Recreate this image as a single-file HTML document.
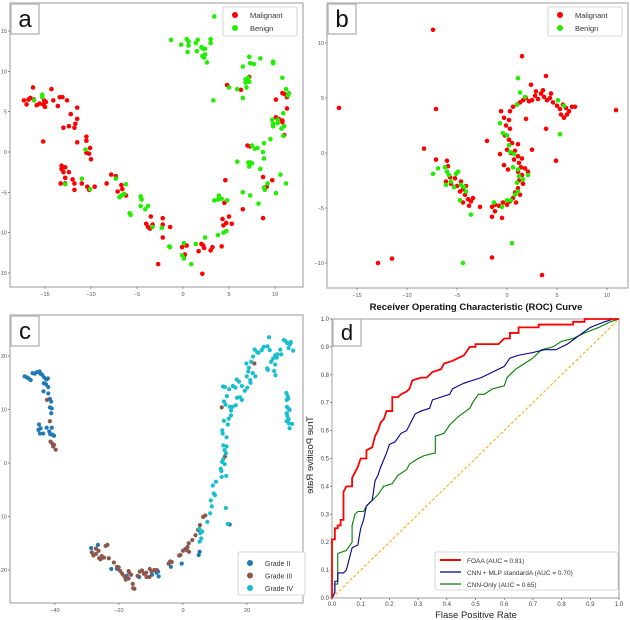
<!DOCTYPE html>
<html><head><meta charset="utf-8"><style>
html,body{margin:0;padding:0;background:#fff;}
svg{display:block;font-family:"Liberation Sans",sans-serif;}
</style></head><body>
<svg id="fig" width="630" height="620" viewBox="0 0 630 620"></svg>
<script>
const aMal=[[-17.3,6.4],[-17,5.9],[-16.8,6.5],[-16.6,6.7],[-16.3,8],[-16.2,6.5],[-15.9,5.8],[-15.6,6],[-15.2,5.9],[-15.1,6.4],[-15,5.6],[-14.9,6.2],[-14.3,7.8],[-14.1,6.4],[-13.6,5.7],[-13.4,6.8],[-13.1,6.8],[-12.6,6.4],[-13,3],[-12.4,3.2],[-12.2,4.7],[-11.8,3],[-11.7,3.5],[-11.5,4.1],[-11.5,5.5],[-11.5,1.2],[-15.2,1.3],[-10.5,1.9],[-10.5,1.4],[-10.5,-0.1],[-10.2,-0.2],[-10.1,0.5],[-10,-0.9],[-13.2,-1.7],[-13.2,-2.1],[-13,-2.5],[-12.8,-1.9],[-12.8,-3.2],[-12.4,-2.5],[-13.3,-3.9],[-12.8,-3.9],[-12,-3.4],[-11.8,-3.9],[-11.8,-4.7],[-11,-3.9],[-10.4,-4.3],[-10.2,-4.7],[-9.6,-4.3],[-8.3,-3.9],[-7.8,-2.8],[-7.3,-3],[-7.1,-4.9],[-6.7,-4.1],[-6.6,-4.6],[-6.2,-5.4],[-3.5,-8],[-4,-8.9],[-3.8,-9.3],[-3.6,-9.5],[-3.3,-9],[-2.2,-8.2],[-2.2,-9],[-1.4,-9.3],[-2.2,-10.6],[-0.1,-11.8],[0.4,-11.6],[0.2,-12.7],[0.1,-12.9],[-2.7,-13.9],[2,-11.4],[2.2,-11.6],[2.3,-11.9],[1.7,-12.3],[3,-12.2],[3.2,-11.8],[4.2,-11.7],[2.1,-15.1],[4.3,-8.3],[4.4,-9.1],[4.7,-8.8],[5,-8],[5.3,-8.9],[4.5,-6.3],[4.6,-3.5],[6.5,-7.1],[8.7,-8.2],[8.7,-3.1],[9.1,-4.3],[9.7,-3.5],[7,0.8],[7.3,0.7],[4.8,8.3],[6.3,7.7],[7.2,9.3],[10.1,6.5],[10.1,4.3],[10.8,3.9],[10.8,7.3],[11,7.2],[11,2.1],[11.3,6.8],[11.3,5.4],[10.8,3.7],[10.4,4.1]];
const aBen=[[3.4,16.8],[-1.3,13.9],[-0.2,13.3],[0.4,14],[0.6,13.7],[0.6,13.2],[0.5,12.4],[1.4,13.5],[1.6,13.9],[1.5,12.5],[2,13],[2.2,12.8],[2.4,12.8],[2.1,11.9],[2.3,11.7],[2.4,12.1],[2.6,11.1],[3,14],[3,13.5],[3.3,6.4],[7.2,11.8],[7.3,11],[7.7,10.9],[8.4,11.6],[9.8,11],[9.8,11.2],[6.5,10.6],[6.8,9],[6.8,8.6],[7.1,9.2],[7.2,8.7],[6.9,8],[5,8],[5.9,7.8],[6.5,6.7],[10.8,9.2],[11.2,7.8],[11.4,7],[11.5,7.3],[9.7,4],[9.8,3.5],[9.8,3.2],[10.3,4],[10.3,3.6],[10.7,2.9],[10.9,4.8],[11,3.2],[10.9,2],[9.5,1.6],[8.8,1.1],[8.1,0.5],[7.8,0.4],[7.5,0.8],[8.7,0],[8.8,-0.8],[8.4,-2.1],[5.9,-1.2],[7.1,-1.3],[7.3,-1.3],[7.2,-1.8],[7.5,-1.4],[6.5,-5],[7.3,-5.4],[8.2,-6.4],[8.8,-4.4],[8.9,-4.7],[9.2,-3.9],[10.1,-5.1],[10.6,-2.8],[11.2,-3.9],[3.4,-6],[3.8,-5.9],[3.9,-5.4],[4.2,-5.8],[4.8,-6],[3.8,-10.3],[4.4,-10],[4.7,-9.8],[2.4,-10.6],[1.4,-11.4],[0.1,-11.3],[-0.1,-12.8],[0.1,-13.2],[0.9,-13.9],[-1.5,-11.7],[-1.4,-11.8],[-2.3,-9.4],[-3.3,-9.3],[-3.8,-6.7],[-4.1,-7.1],[-4.6,-6.7],[-4.6,-5.5],[-4.5,-5.9],[-5.8,-7.6],[-5.7,-7.8],[-6.4,-5.2],[-6.2,-4],[-6.7,-5.4],[-6.9,-5.6],[-7.3,-3.3],[-11,-3.3],[-10.1,-4.6],[-10.6,0.3],[-12.8,-4],[-15.3,7.1],[-15.3,6.8],[-16.2,6.4]];
const bMal=[[-7.4,11.2],[-16.8,4.1],[-7.1,4],[1.5,8.8],[3.9,7],[10.9,3.9],[-8.3,0.4],[-2,1.1],[4.9,-0.7],[-7.1,-0.6],[-12.9,-10],[-11.5,-9.6],[-1.5,-9.5],[3.5,-11.1],[-0.5,-5.9],[-1.5,-5.8],[-2.7,-4.9],[3.9,2.2],[1.9,3.1],[2.5,0.3],[5.7,3.2],[1,4.4],[1.3,4.6],[1.6,4.8],[1.9,5],[2.2,4.7],[2.5,4.8],[2.8,5.2],[3.1,4.9],[3.4,5.4],[3.7,5.1],[4,4.8],[4.3,5],[4.6,4.6],[5,4.3],[5.3,4],[5.6,4.4],[5.9,4.1],[6.2,3.8],[6.5,4.2],[6.8,4.2],[5.4,3.5],[6,3.5],[2.4,6.2],[2.9,5.6],[3.6,5.7],[4.4,5.4],[0.6,4.2],[0.3,3.8],[-0.6,3.8],[-0.3,3.2],[0.2,3],[-0.1,2.5],[0.3,2.2],[-0.2,1.6],[0.2,1.2],[0.5,0.9],[0,0.3],[0.4,0],[0.8,0.2],[1.1,-0.3],[0.7,-0.6],[1.2,-0.9],[1.5,-0.5],[1.4,-1.3],[1.1,-1.7],[1.5,-2],[1.8,-1.4],[2.1,-1.7],[1.2,-2.5],[1.6,-2.8],[1.1,-3.2],[0.8,-3.6],[1.3,-3.8],[0.6,-4.1],[0.9,-4.5],[0.3,-4.4],[0,-4.7],[-0.4,-4.5],[-0.8,-4.8],[-1.2,-4.7],[-1.5,-4.9],[-1.2,-5.3],[-0.3,-1.1],[1.1,0.8],[-0.7,-0.1],[0.1,-1.5],[-6,-0.7],[-5.9,-1.2],[-5.7,-2.2],[-5.6,-2.8],[-5.2,-2.3],[-5,-3],[-4.7,-3.5],[-4.4,-3.3],[-4.2,-3.8],[-3.9,-4.2],[-3.6,-4.4],[-3.4,-4.1],[-4.6,-2.6],[-4.1,-3],[-3.8,-4.8],[-4.4,-4.5],[-6.1,-2.6]];
const bBen=[[1.1,6.8],[1.3,5.5],[1.8,5.1],[1,4.4],[5.3,1.7],[5.1,4.8],[5.7,4.3],[-0.7,2.7],[-0.4,1.8],[0,1.6],[0.2,0.7],[0.3,0.1],[0.7,-0.1],[0.6,-1.3],[1.1,-1.5],[1.2,-2.1],[1.6,-2.4],[2.1,-2],[1,-2.7],[1.1,-3.5],[0.8,-3.8],[0.4,-4.3],[0,-4.3],[-0.5,-4.9],[-1.3,-4.5],[0.5,-8.2],[-4.4,-10],[-3.6,-5.6],[-4.7,-4.3],[-7.4,-1.9],[-6.9,-1.4],[-6.2,-1.3],[-6,-1.7],[-5.8,-2],[-5.6,-2.6],[-5.3,-3.1],[-4.9,-1.7],[-4.6,-2.9],[-4.3,-3.1],[-4.1,-3.5],[-5.1,-1.9],[-6.1,-2.9]];
const cG2=[[-49.5,16.2],[-48.8,16],[-48.2,15.8],[-47.6,15.5],[-47,16.8],[-46.3,16.7],[-45.6,17],[-44.8,17.1],[-44.6,16.7],[-44,16.5],[-43.4,16],[-42.7,15.6],[-42.2,15.8],[-43.5,14.9],[-42.8,14.7],[-42.1,14.2],[-43.6,13.4],[-42.1,13],[-41.6,12],[-41.2,11.5],[-41.6,10.4],[-41,10.2],[-41.2,9.3],[-45,7.2],[-44.5,6.5],[-45.2,6.2],[-44.7,5.5],[-43.7,5.5],[-42.6,6.6],[-41.8,5.9],[-41,6.6],[-40.8,5.3],[-40.3,5.1],[-41.5,5.4],[-28.7,-15.9],[-26.6,-15.3],[-22.4,-19.8],[-20.6,-19.8],[-17.9,-21.3],[-17.6,-21.1],[-13.7,-21.3],[-9.7,-20.9],[-8.3,-20.5],[-7.6,-21.2],[-7.8,-20.3],[-3.8,-19.4],[-0.4,-18.8],[4.9,-17.2],[5.2,-16.6],[14.6,-11.5]];
const cG3=[[-42.5,11.8],[-41.6,7.8],[-41.4,4],[-40.8,3.6],[-40.3,3.4],[-39.8,2.5],[-40.6,3.1],[-28.5,-16.7],[-28,-17.3],[-27.2,-17],[-26.4,-16.4],[-26.2,-17.8],[-25.8,-18],[-25.4,-17.4],[-24.7,-17.7],[-27.2,-16],[-24.2,-15.5],[-23.6,-15.3],[-23.2,-17.8],[-21.6,-18.6],[-20.6,-19.4],[-20.1,-19.5],[-19.6,-20.2],[-19,-20.7],[-18.3,-21.2],[-17.9,-21.8],[-17,-21.6],[-17,-20.2],[-16.8,-20.5],[-16.2,-20.9],[-15.7,-22.6],[-15.6,-23.4],[-15.2,-23.5],[-14.2,-21.1],[-13.5,-20.3],[-12.8,-20.1],[-12.2,-20.7],[-11.4,-21.3],[-11.5,-20.5],[-10.5,-21.3],[-10.4,-19.8],[-9.8,-20.3],[-9,-20],[-8.2,-20],[-4.5,-18.8],[-4,-18.4],[-3.5,-18.5],[-1.2,-17.3],[-0.8,-17.2],[0,-16.4],[0.7,-16.1],[1.2,-16.3],[1.9,-16.6],[1.4,-15.7],[1.8,-15],[2.9,-14.4],[3.9,-13.5],[4.7,-12.5],[5.3,-11.6],[6.3,-10.1],[7,-9.8],[12.1,10.4],[13.1,1.2],[22.3,18.6]];
const cG4=[[5.1,-12.3],[5.4,-13.1],[5.7,-14.1],[5.2,-14.7],[6,-12.8],[7.6,-11],[8.5,-9.4],[9,-8.1],[8.7,-7],[9.6,-5.7],[10,-6],[9.3,-4.2],[10.3,-3.5],[12.1,-2.6],[13.5,-2.4],[11.8,-1.1],[12.2,0.2],[12.6,0.7],[13,-0.2],[12,-1.5],[13.4,1.8],[13,2.4],[12.6,3.3],[13.6,3.1],[13.6,4.8],[12.4,5.5],[12.3,6.1],[12.8,7.9],[14,7.2],[14.3,8.3],[15,8.9],[15,9.8],[14.6,10.5],[13.3,10.9],[15.5,10.5],[16.5,10.8],[16.9,12.2],[17.8,12.3],[18.4,11.8],[12.8,11.5],[13.7,12.5],[14.4,13.8],[15.6,14.4],[16.4,14.1],[16.8,15.6],[17.5,15.2],[18.4,14.4],[19.3,13.5],[20.1,14.1],[21.1,15],[21,15.5],[19.9,16.2],[20.4,17.1],[20.6,17.8],[21.8,16.8],[22.6,16.2],[19.8,18.6],[21.3,18.9],[21.9,19.9],[22.4,21.2],[23.2,20.7],[23.6,20.6],[24.6,21.1],[25.2,21.7],[26.4,21.8],[27.1,21.1],[27.5,18.9],[28.1,19.5],[28.8,20.1],[29.3,19.7],[29.5,20.3],[30.4,21.2],[30.7,20.3],[28.8,18.4],[28.5,17.2],[28.9,16.4],[26.9,23.5],[31.5,23],[32,22.8],[32.6,22.4],[33,21.5],[33.4,22.2],[33.7,22.6],[34.4,21],[26.3,17.7],[26.5,17.4],[12.5,14.3],[13.1,14.2],[32.3,13.1],[32.7,12.5],[32.4,11.8],[32.9,12],[32.5,10.5],[32.9,10.2],[33.3,9.9],[32.4,9.3],[32.6,8.8],[33,8.2],[32.4,7.8],[33.1,7.4],[34.1,7.3],[33.3,6.5],[13.4,-8.4],[14,-11.4]];
const rocFoaa=[[0,0],[0,0.21],[0.01,0.21],[0.01,0.25],[0.02,0.25],[0.02,0.26],[0.03,0.26],[0.03,0.28],[0.04,0.28],[0.04,0.38],[0.05,0.4],[0.07,0.4],[0.07,0.43],[0.08,0.45],[0.09,0.47],[0.1,0.5],[0.12,0.5],[0.12,0.53],[0.14,0.54],[0.15,0.58],[0.16,0.6],[0.17,0.63],[0.18,0.64],[0.19,0.67],[0.21,0.67],[0.21,0.72],[0.23,0.72],[0.24,0.73],[0.26,0.74],[0.27,0.75],[0.28,0.78],[0.31,0.79],[0.33,0.79],[0.34,0.8],[0.35,0.81],[0.38,0.82],[0.39,0.84],[0.42,0.85],[0.44,0.86],[0.46,0.87],[0.48,0.9],[0.5,0.9],[0.5,0.91],[0.58,0.91],[0.6,0.93],[0.62,0.93],[0.62,0.95],[0.65,0.95],[0.65,0.97],[0.72,0.97],[0.72,0.98],[0.84,0.98],[0.84,0.99],[0.88,0.99],[0.88,1],[1,1]];
const rocMlp=[[0,0],[0.01,0.02],[0.01,0.06],[0.02,0.06],[0.02,0.09],[0.04,0.09],[0.05,0.1],[0.06,0.14],[0.07,0.18],[0.09,0.19],[0.1,0.25],[0.11,0.28],[0.12,0.33],[0.14,0.35],[0.15,0.42],[0.16,0.44],[0.17,0.47],[0.19,0.52],[0.2,0.55],[0.22,0.56],[0.24,0.59],[0.26,0.6],[0.27,0.62],[0.29,0.66],[0.31,0.67],[0.34,0.68],[0.35,0.71],[0.38,0.72],[0.41,0.73],[0.42,0.75],[0.46,0.77],[0.49,0.78],[0.52,0.79],[0.56,0.81],[0.6,0.83],[0.62,0.86],[0.65,0.87],[0.7,0.88],[0.74,0.89],[0.78,0.89],[0.82,0.91],[0.86,0.94],[0.9,0.97],[0.95,0.99],[0.98,1],[1,1]];
const rocCnn=[[0,0],[0.01,0.02],[0.01,0.05],[0.02,0.05],[0.02,0.16],[0.05,0.17],[0.07,0.2],[0.07,0.26],[0.08,0.3],[0.09,0.31],[0.11,0.31],[0.12,0.33],[0.14,0.35],[0.16,0.37],[0.18,0.4],[0.21,0.41],[0.23,0.44],[0.26,0.46],[0.27,0.48],[0.3,0.5],[0.32,0.51],[0.36,0.52],[0.36,0.58],[0.39,0.59],[0.41,0.62],[0.44,0.65],[0.48,0.68],[0.49,0.7],[0.51,0.73],[0.53,0.73],[0.56,0.75],[0.6,0.76],[0.61,0.79],[0.64,0.82],[0.67,0.84],[0.7,0.86],[0.73,0.89],[0.77,0.9],[0.8,0.92],[0.84,0.93],[0.88,0.95],[0.93,0.97],[0.97,0.99],[1,1]];
const aXTicks=[-15,-10,-5,0,5,10], aYTicks=[15,10,5,0,-5,-10,-15];
const bXTicks=[-15,-10,-5,0,5,10], bYTicks=[10,5,0,-5,-10];
const cXTicks=[-40,-20,0,20], cYTicks=[20,10,0,-10,-20];
const dTicks=[0,0.1,0.2,0.3,0.4,0.5,0.6,0.7,0.8,0.9,1.0];

const NS='http://www.w3.org/2000/svg', svg=document.getElementById('fig');
function el(tag,attrs,parent,txt){const e=document.createElementNS(NS,tag);for(const k in attrs)e.setAttribute(k,attrs[k]);if(txt!==undefined)e.textContent=txt;(parent||svg).appendChild(e);return e;}
function lin(d0,d1,p0,p1){return v=>p0+(v-d0)*(p1-p0)/(d1-d0);}

function panel(name,f,xs,ys,xt,yt,label,lbl){
  const g=el('g',{},svg);
  const fr=el('rect',{x:f[0],y:f[1],width:f[2]-f[0],height:f[3]-f[1],fill:'#fff',stroke:'#aaa','stroke-width':1.2},g);
  
  xt.forEach(t=>{const x=xs(t);el('line',{x1:x,x2:x,y1:f[3],y2:f[3]+2,stroke:'#555','stroke-width':0.6},g);
    const tx=el('text',{x:x,y:f[3]+9,'font-size':5.5,fill:'#555','text-anchor':'middle'},g,t<0?'\u2212'+(-t):String(t));
    });
  yt.forEach(t=>{const y=ys(t);el('line',{x1:f[0]-2,x2:f[0],y1:y,y2:y,stroke:'#555','stroke-width':0.6},g);
    const tx=el('text',{x:f[0]-3,y:y+2,'font-size':5.5,fill:'#555','text-anchor':'end'},g,t<0?'\u2212'+(-t):String(t));
    });
  const lb=el('g',{},g);
  el('rect',{x:lbl[0],y:lbl[1],width:28,height:30,fill:'#fff',stroke:'#bbb','stroke-width':1.5},lb);
  el('text',{x:lbl[0]+14,y:lbl[1]+23,'font-size':24,'text-anchor':'middle',fill:'#111'},lb,label);
  return g;
}
function scatter(g,pts,xs,ys,col,name,r){pts.forEach(p=>{const c=el('circle',{cx:xs(p[0]),cy:ys(p[1]),r:r||2.3,fill:col},g);
  });}
function legend(g,box,items,fs){
  const lg=el('g',{},g);
  el('rect',{x:box[0],y:box[1],width:box[2],height:box[3],fill:'#fff',stroke:'#ccc','stroke-width':0.8,rx:1.5},lg);
  items.forEach((it,i)=>{const y=box[1]+box[4]+i*box[5];
    const e=el('g',{},lg);
    if(it.line)el('line',{x1:box[0]+5,x2:box[0]+26,y1:y,y2:y,stroke:it.c,'stroke-width':it.w},e);
    else el('circle',{cx:box[0]+12,cy:y,r:3,fill:it.c},e);
    el('text',{x:box[0]+(it.line?32:27),y:y+3,'font-size':fs,fill:'#333'},e,it.t);});
}
// a
let ax=lin(0,10,183,275), ay=lin(0,15,152,31);
let g=panel('panel-a',[10,3,303,287],ax,ay,aXTicks,aYTicks,'a',[11,4]);
scatter(g,aMal,ax,ay,'#ff0000','malignant-point');scatter(g,aBen,ax,ay,'#22ee00','benign-point');
legend(g,[223,7,74,29,8,13],[{c:'#ff0000',t:'Malignant'},{c:'#22ee00',t:'Benign'}],7.5);
// b
let bx=lin(0,10,507,607), by=lin(0,10,153,43);
g=panel('panel-b',[327,3,628,288],bx,by,bXTicks,bYTicks,'b',[328,4]);
scatter(g,bMal,bx,by,'#ff0000','malignant-point');scatter(g,bBen,bx,by,'#22ee00','benign-point');
legend(g,[548,7,74,29,8,13],[{c:'#ff0000',t:'Malignant'},{c:'#22ee00',t:'Benign'}],7.5);
// c
let cx=lin(0,20,183,247), cy=lin(0,20,463,356);
g=panel('panel-c',[10,315,303,603],cx,cy,cXTicks,cYTicks,'c',[11,316]);
scatter(g,cG2,cx,cy,'#1f77b4','grade-ii-point',2.1);scatter(g,cG3,cx,cy,'#8c564b','grade-iii-point',2.1);scatter(g,cG4,cx,cy,'#17becf','grade-iv-point',2.1);
legend(g,[238,552,67,43,11,12.5],[{c:'#1f77b4',t:'Grade II'},{c:'#8c564b',t:'Grade III'},{c:'#17becf',t:'Grade IV'}],7);
// d
let dx=lin(0,1,332,619), dy=lin(0,1,598,319);
const gd=el('g',{},svg);
const fr=el('rect',{x:332,y:319,width:287,height:279,fill:'#fff',stroke:'#888','stroke-width':0.8},gd);

dTicks.forEach(t=>{const x=dx(t),y=dy(t),s=t.toFixed(1);
  el('line',{x1:x,x2:x,y1:598,y2:600,stroke:'#444','stroke-width':0.6},gd);
  let a=el('text',{x:x,y:606,'font-size':6,fill:'#444','text-anchor':'middle'},gd,s);
  el('line',{x1:330,x2:332,y1:y,y2:y,stroke:'#444','stroke-width':0.6},gd);
  a=el('text',{x:329,y:y+2,'font-size':6,fill:'#444','text-anchor':'end'},gd,s);});
let dl=el('line',{x1:dx(0),y1:dy(0),x2:dx(1),y2:dy(1),stroke:'#ffa500','stroke-width':1,'stroke-dasharray':'3,2'},gd);

function curve(pts,col,w,name){const p=el('polyline',{points:pts.map(q=>dx(q[0])+','+dy(q[1])).join(' '),fill:'none',stroke:col,'stroke-width':w},gd);
  }
curve(rocCnn,'#008000',1.1,'cnn-only-curve');curve(rocMlp,'#00008b',1.1,'cnn-mlp-curve');curve(rocFoaa,'#ff0000',1.8,'foaa-curve');
let lb=el('g',{},gd);
el('rect',{x:333,y:319,width:28,height:27,fill:'#fff',stroke:'#bbb','stroke-width':1.5},lb);
el('text',{x:347,y:340,'font-size':22,'text-anchor':'middle',fill:'#111'},lb,'d');
legend(gd,[435,552,183,38,8,12],[{c:'#ff0000',w:2,line:1,t:'FOAA (AUC = 0.81)'},{c:'#00008b',w:1.2,line:1,t:'CNN + MLP standardA (AUC = 0.70)'},{c:'#008000',w:1.2,line:1,t:'CNN-Only (AUC = 0.65)'}],6.5);
let t=el('text',{x:476,y:310,'font-size':9.5,'font-weight':'bold','text-anchor':'middle',fill:'#111'},svg,'Receiver Operating Characteristic (ROC) Curve');

t=el('text',{x:476,y:618,'font-size':9.5,'text-anchor':'middle',fill:'#222'},svg,'Flase Positive Rate');

t=el('text',{x:0,y:0,'font-size':9.5,'text-anchor':'middle',fill:'#222',transform:'translate(313,455) rotate(90) scale(1,-1)'},svg,'True Positive Rate');

</script>
</body></html>
